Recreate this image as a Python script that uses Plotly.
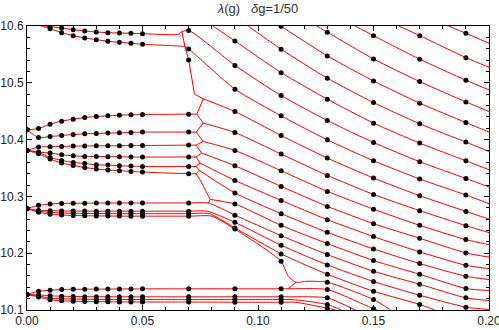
import plotly.graph_objects as go

# ---- left part: levels sampled every 0.005 ----
g_left = [0.0, 0.005, 0.01, 0.015, 0.02, 0.025, 0.03, 0.035, 0.04, 0.045, 0.05]

# two levels entering from above 10.6
top_pair = [
    [None, 10.6015, 10.5988, 10.5965, 10.5935, 10.5912, 10.5895, 10.5882, 10.5877, 10.5872, 10.5865],
    [None, 10.6015, 10.5953, 10.5882, 10.5830, 10.5789, 10.5759, 10.5731, 10.5713, 10.5696, 10.5678],
]
top_at_07 = [10.5921, 10.5596, 10.5402]

mid_levels = [
    [10.4172, 10.4195, 10.4272, 10.4325, 10.4360, 10.4388, 10.4406, 10.4418, 10.4430, 10.4436, 10.4441],
    [10.4172, 10.4037, 10.4054, 10.4072, 10.4090, 10.4102, 10.4107, 10.4114, 10.4119, 10.4125, 10.4132],
    [10.3809, 10.3869, 10.3874, 10.3879, 10.3886, 10.3886, 10.3891, 10.3891, 10.3891, 10.3896, 10.3896],
    [10.3809, 10.3781, 10.3763, 10.3733, 10.3715, 10.3703, 10.3703, 10.3698, 10.3698, 10.3692, 10.3692],
    [10.3809, 10.3774, 10.3685, 10.3633, 10.3597, 10.3580, 10.3557, 10.3552, 10.3539, 10.3534, 10.3527],
    [10.3809, 10.3750, 10.3657, 10.3587, 10.3545, 10.3510, 10.3481, 10.3464, 10.3452, 10.3439, 10.3429],
]
mid_at_07 = [10.4448, 10.4132, 10.3903, 10.3695, 10.3525, 10.3399]

band28 = [
    [10.2784, 10.2842, 10.2866, 10.2877, 10.2880, 10.2880, 10.2882, 10.2884, 10.2884, 10.2884, 10.2884],
    [10.2784, 10.2758, 10.2749, 10.2744, 10.2742, 10.2741, 10.2740, 10.2740, 10.2740, 10.2740, 10.2740],
    [10.2784, 10.2740, 10.2719, 10.2708, 10.2703, 10.2700, 10.2698, 10.2697, 10.2696, 10.2696, 10.2696],
    [10.2784, 10.2722, 10.2687, 10.2673, 10.2664, 10.2660, 10.2657, 10.2655, 10.2653, 10.2652, 10.2652],
]
band28_at_07 = [10.2884, 10.2740, 10.2696, 10.2652]
band28_end = [[0.0785, 10.2884], [0.0780, 10.2740], [0.0790, 10.2696], [0.0800, 10.2652]]

band13 = [
    [10.1273, 10.1330, 10.1348, 10.1360, 10.1364, 10.1366, 10.1368, 10.1369, 10.1370, 10.1371, 10.1372],
    [10.1273, 10.1264, 10.1250, 10.1243, 10.1238, 10.1235, 10.1234, 10.1233, 10.1232, 10.1232, 10.1232],
    [10.1273, 10.1247, 10.1208, 10.1197, 10.1192, 10.1189, 10.1187, 10.1186, 10.1185, 10.1184, 10.1184],
    [10.1273, 10.1229, 10.1180, 10.1162, 10.1155, 10.1150, 10.1147, 10.1145, 10.1143, 10.1142, 10.1141],
]
band13_at_07 = [10.1373, 10.1232, 10.1184, 10.1141]
band13_right = [10.1373, 10.1232, 10.1184, 10.1137]   # same at 0.09 and 0.11
band13_end = [[0.1131, 10.1373], [0.1140, 10.1232], [0.1150, 10.1184], [0.1160, 10.1137]]

# ---- right part: columns of dots, dg = 0.02 ----
g_cols = [0.09, 0.11, 0.13, 0.15, 0.17, 0.19, 0.20]
col_09 = [10.5736, 10.5306, 10.4888, 10.4494, 10.4125, 10.3808, 10.3540, 10.3281, 10.3060, 10.2866,
          10.2670, 10.2543, 10.2445, 10.2424]
col_11 = [10.5995, 10.5591, 10.5179, 10.4775, 10.4418, 10.4072, 10.3745, 10.3452, 10.3176, 10.2930,
          10.2696, 10.2490, 10.2309, 10.2139, 10.1988, 10.1858]
col_13 = [10.5889, 10.5473, 10.5081, 10.4712, 10.4336, 10.3996, 10.3675, 10.3369, 10.3088, 10.2824,
          10.2590, 10.2367, 10.2169, 10.1975, 10.1794, 10.1629, 10.1488, 10.1360, 10.1214, 10.1097, 10.1032]
col_15 = [10.5830, 10.5420, 10.5033, 10.4652, 10.4290, 10.3949, 10.3627, 10.3323, 10.3035, 10.2775,
          10.2520, 10.2292, 10.2075, 10.1870, 10.1682, 10.1501, 10.1330, 10.1184, 10.1021]
col_17 = [10.5830, 10.5415, 10.5021, 10.4641, 10.4278, 10.3938, 10.3610, 10.3306, 10.3012, 10.2749,
          10.2490, 10.2262, 10.2023, 10.1817, 10.1629, 10.1453, 10.1260, 10.1097]
col_19 = [10.5872, 10.5443, 10.5046, 10.4664, 10.4300, 10.3956, 10.3627, 10.3316, 10.3025, 10.2736,
          10.2485, 10.2239, 10.2005, 10.1787, 10.1594, 10.1378, 10.1214, 10.1049]
col_20 = [10.5696, 10.5274, 10.4875, 10.4494, 10.4132, 10.3791, 10.3469, 10.3165, 10.2872, 10.2599,
          10.2362, 10.2151, 10.1931, 10.1729, 10.1536, 10.1343, 10.1167, 10.1009]
columns = [col_09, col_11, col_13, col_15, col_17, col_19, col_20]
first_k = [3, 1, 0, -1, -2, -3, -3]   # line number sitting in slot 0 of each column

# where lines come in through the top / leave through the bottom
top_entry = {-3: 0.1824, -2: 0.161, -1: 0.142, 0: 0.1254, 2: 0.0957, 3: 0.0805}
bottom_exit = {15: 0.1765, 16: 0.1574, 17: 0.1515, 18: 0.142, 19: 0.136, 20: 0.1335}

# avoided-crossing corners
top_corner = [[0.0655, 10.5854, 0.0670, 10.5900], [0.0650, 10.5649, 0.0684, 10.5637]]
mid_end = [[0.0735, 10.4448], [0.0732, 10.4132], [0.0732, 10.3903], [0.0732, 10.3695],
           [0.0732, 10.3527], [0.0732, 10.3399]]
junctions = [[0.0763, 10.4717], [0.0763, 10.4290], [0.0763, 10.3967], [0.0756, 10.3763],
             [0.0749, 10.3587], [0.0746, 10.3457], [0.0793, 10.2947]]
wall_top = [[0.0670, 10.5900], [0.0684, 10.5637], [0.0700, 10.5402], [0.0725, 10.4800]]
wall_low = [[0.0753, 10.3264]]
d_detour = [[0.1131, 10.1594], [0.1165, 10.1488], [0.1212, 10.1506]]

RED = "#ff0000"
fig = go.Figure()


def add_line(xs, ys, smooth=True):
    fig.add_trace(go.Scatter(
        x=xs, y=ys, mode="lines", hoverinfo="skip", showlegend=False,
        line=dict(color=RED, width=1, shape="spline" if smooth else "linear",
                  smoothing=0.6 if smooth else None),
    ))


def diag_points(k):
    pts = []
    for g, col, k0 in zip(g_cols, columns, first_k):
        i = k - k0
        if 0 <= i < len(col):
            pts.append((g, col[i]))
    return pts


paths = {}
for k, g0 in top_entry.items():
    paths[k] = [(g0, 10.6)]
paths[1] = []

# the two top levels
for n, lev in enumerate(top_pair):
    pts = [(g, v) for g, v in zip(g_left, lev) if v is not None]
    c = top_corner[n]
    pts += [(c[0], c[1]), (c[2], c[3]), (0.07, top_at_07[n])]
    paths[4 + n] = pts

# junctions of the middle band
for n, j in enumerate(junctions):
    paths[6 + n] = [tuple(j)]

# the 10.28 band turns into lines 13..16
for n, lev in enumerate(band28):
    paths[13 + n] = list(zip(g_left, lev)) + [(0.07, band28_at_07[n]), tuple(band28_end[n])]

# the 10.13 band turns into lines 17..20
for n, lev in enumerate(band13):
    paths[17 + n] = (list(zip(g_left, lev)) + [(0.07, band13_at_07[n]), (0.09, band13_right[n]),
                     (0.11, band13_right[n]), tuple(band13_end[n])])

for k in sorted(paths):
    pts = paths[k] + diag_points(k)
    if k == 16:
        pts = paths[k] + diag_points(k)[:2] + [tuple(p) for p in d_detour] + diag_points(k)[2:]
    if k in bottom_exit:
        pts.append((bottom_exit[k], 10.1))
    add_line([p[0] for p in pts], [p[1] for p in pts])

# middle levels end at the wall
for n, lev in enumerate(mid_levels):
    add_line(g_left + [0.07, mid_end[n][0]], lev + [mid_at_07[n], mid_end[n][1]])

# zigzag wall
wall = list(wall_top) + [junctions[0]]
for n in range(6):
    wall.append(mid_end[n])
    if n < 5:
        wall.append(junctions[n + 1])
wall += wall_low + [junctions[6], band28_end[0]]
add_line([p[0] for p in wall], [p[1] for p in wall], smooth=False)
add_line([d_detour[1][0], band13_end[0][0]], [d_detour[1][1], band13_end[0][1]], smooth=False)

# ---- dots ----
dot_x, dot_y = [], []
for lev in top_pair:
    for g, v in zip(g_left, lev):
        if v is not None and v <= 10.6:
            dot_x.append(g)
            dot_y.append(v)
for group in (mid_levels, band28, band13):
    for lev in group:
        dot_x += g_left
        dot_y += lev
for v in top_at_07 + mid_at_07 + band28_at_07 + band13_at_07:
    dot_x.append(0.07)
    dot_y.append(v)
for g, col in zip(g_cols[:-1], columns[:-1]):
    extra = band13_right if g in (0.09, 0.11) else []
    for v in col + extra:
        dot_x.append(g)
        dot_y.append(v)

fig.add_trace(go.Scatter(x=dot_x, y=dot_y, mode="markers", hoverinfo="skip", showlegend=False,
                         marker=dict(color="black", size=5)))

axis_style = dict(showgrid=False, zeroline=False, showline=True, linecolor="black", linewidth=1,
                  mirror="ticks", ticks="inside", ticklen=5, tickwidth=1, tickcolor="black",
                  automargin=False, ticklabeloverflow="allow",
                  tickfont=dict(family="Liberation Sans", size=12, color="#222"))
fig.update_xaxes(range=[0, 0.2], tickvals=[0, 0.05, 0.1, 0.15, 0.2], tickformat=".2f",
                 minor=dict(ticks="inside", ticklen=3, dtick=0.01, tickcolor="black", showgrid=False),
                 **axis_style)
fig.update_yaxes(range=[10.1, 10.6], tickvals=[10.1, 10.2, 10.3, 10.4, 10.5, 10.6], tickformat=".1f",
                 minor=dict(ticks="inside", ticklen=3, dtick=0.02, tickcolor="black", showgrid=False),
                 **axis_style)

fig.update_layout(
    width=499, height=330,
    margin=dict(l=27, r=10, t=26, b=20, autoexpand=False),
    plot_bgcolor="white", paper_bgcolor="white",
    showlegend=False,
    title=dict(text="<i>λ</i>(g)\u00a0\u00a0\u00a0<i>δ</i>g=1/50", xref="paper", x=0.5, xanchor="center",
               yref="container", y=0.975, yanchor="middle",
               font=dict(family="Liberation Sans", size=13, color="#333")),
)

# the page body has a default 8px margin; remove it so the figure sits at the window corner
fig.write_html("out.html", config={"displayModeBar": False},
               post_script="document.body.style.margin='0';document.body.style.padding='0';")
